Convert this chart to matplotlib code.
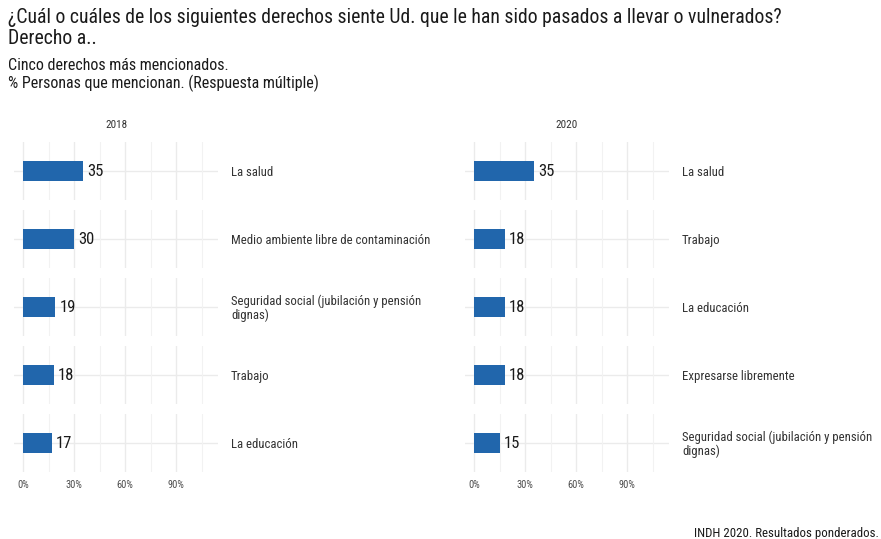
import textwrap
import numpy as np
import matplotlib.pyplot as plt
from matplotlib import font_manager
from matplotlib.ticker import FixedLocator

# data
years = ['2018', '2020']
labels_2018 = ['La salud', 'Medio ambiente libre de contaminación',
               'Seguridad social (jubilación y pensión dignas)', 'Trabajo', 'La educación']
values_2018 = [35, 30, 19, 18, 17]
labels_2020 = ['La salud', 'Trabajo', 'La educación', 'Expresarse libremente',
               'Seguridad social (jubilación y pensión dignas)']
values_2020 = [35, 18, 18, 18, 15]
x_ticks = [0, 30, 60, 90]
x_ticklabels = ['0%', '30%', '60%', '90%']

title = ('¿Cuál o cuáles de los siguientes derechos siente Ud. que le han sido '
         'pasados a llevar o vulnerados?\nDerecho a..')
subtitle = 'Cinco derechos más mencionados.\n% Personas que mencionan. (Respuesta múltiple)'
caption = 'INDH 2020. Resultados ponderados.'

installed = {f.name for f in font_manager.fontManager.ttflist}
family = 'Roboto Condensed' if 'Roboto Condensed' in installed else 'Roboto'
plt.rcParams['font.family'] = family

BAR = '#2166ac'
GRID = '#ebebeb'
W, H = 881, 539

fig = plt.figure(figsize=(W / 100, H / 100), dpi=100)

panel_left = [14, 465]
panel_w = 204
panel_h = 58
row_top0 = 142
row_step = 68

data = [(labels_2018, values_2018), (labels_2020, values_2020)]

for col, (labs, vals) in enumerate(data):
    for i, (lab, v) in enumerate(zip(labs, vals)):
        top = row_top0 + row_step * i
        ax = fig.add_axes([panel_left[col] / W, 1 - (top + panel_h) / H,
                           panel_w / W, panel_h / H])
        ax.barh([1], [v], height=0.4, color=BAR, zorder=3)
        ax.set_xlim(-5.3, 114.7)
        ax.set_ylim(0.4, 1.6)
        ax.xaxis.set_major_locator(FixedLocator(x_ticks))
        ax.xaxis.set_minor_locator(FixedLocator([15, 45, 75, 105]))
        ax.grid(which='major', axis='x', color=GRID, lw=1.0, zorder=0)
        ax.grid(which='minor', axis='x', color='#f2f2f2', lw=0.8, zorder=0)
        ax.axhline(1, color=GRID, lw=1.0, zorder=0)
        ax.set_yticks([])
        for s in ax.spines.values():
            s.set_visible(False)
        ax.tick_params(which='both', length=0)
        if i == len(labs) - 1:
            ax.set_xticklabels(x_ticklabels, fontsize=7.5, color='#4d4d4d')
            ax.tick_params(axis='x', pad=6)
        else:
            ax.set_xticklabels([])
        ax.text(v + 2.5, 0.98, str(v), va='center', ha='left', fontsize=12,
                color='#1a1a1a', zorder=4)
        ax.text(1.064, 0.47, textwrap.fill(lab, 38), transform=ax.transAxes,
                va='center', ha='left', fontsize=9.2, color='#333333',
                linespacing=1.05, clip_on=False)
    fig.text((panel_left[col] + panel_w / 2) / W, 1 - 125 / H, years[col],
             ha='center', va='center', fontsize=8, color='#333333')

fig.text(8 / W, 1 - 8 / H, title, ha='left', va='top', fontsize=14.2,
         color='#1a1a1a', linespacing=1.1)
fig.text(8 / W, 1 - 58 / H, subtitle, ha='left', va='top', fontsize=11.5,
         color='#1a1a1a', linespacing=1.12)
fig.text(879 / W, 1 - 534 / H, caption, ha='right', va='center', fontsize=9.3,
         color='#1a1a1a')

fig.savefig('out.png', dpi=100)
